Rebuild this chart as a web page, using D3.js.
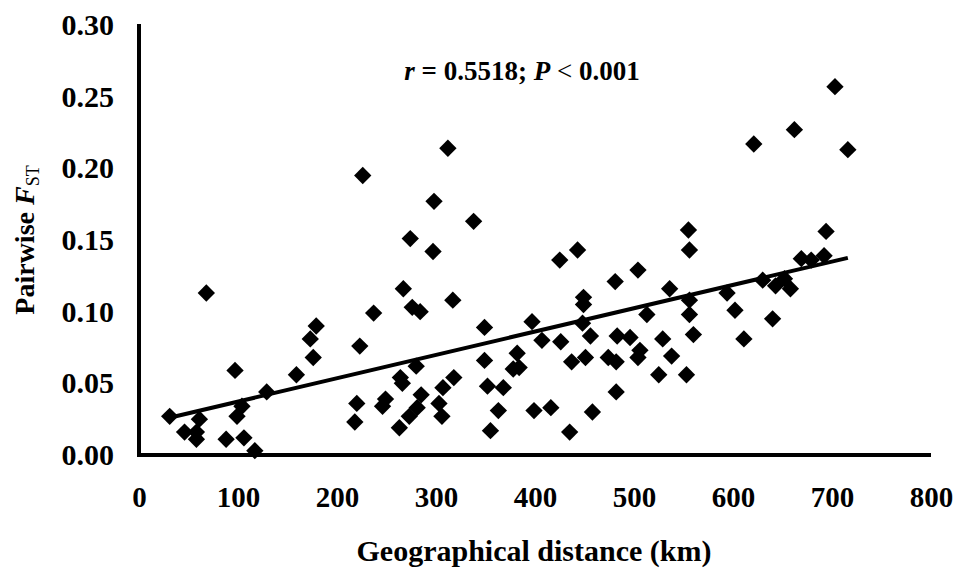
<!DOCTYPE html>
<html>
<head>
<meta charset="utf-8">
<script src="https://cdn.jsdelivr.net/npm/d3@7"></script>
<style>
  body { margin: 0; background: #fff; }
  text { font-family: "Times New Roman", "Liberation Serif", serif; fill: #000; }
</style>
</head>
<body>
<div id="chart"></div>
<script>
// geographical distance (km) and pairwise Fst
var distance = [31, 46, 58, 58, 61, 68, 88, 97, 99, 104, 106, 117, 129, 159, 173, 176, 179,
  218, 220, 223, 226, 237, 246, 249, 263, 264, 266, 267, 273, 274, 276, 280, 281, 284, 285,
  297, 298, 303, 306, 307, 312, 317, 318, 338, 349, 349, 352, 355, 363, 368, 378, 382, 384,
  397, 399, 407, 416, 425, 426, 435, 437, 443, 448, 449, 449, 451, 456, 458, 474, 481, 482,
  482, 483, 496, 504, 504, 506, 513, 525, 529, 536, 538, 553, 555, 556, 556, 556, 560, 594,
  602, 611, 621, 630, 640, 643, 652, 658, 662, 669, 679, 692, 694, 703, 716];
var fst = [0.027, 0.016, 0.016, 0.011, 0.025, 0.113, 0.011, 0.059, 0.027, 0.034, 0.012, 0.003, 0.044, 0.056, 0.081, 0.068, 0.090,
  0.023, 0.036, 0.076, 0.195, 0.099, 0.034, 0.039, 0.019, 0.054, 0.050, 0.116, 0.027, 0.151, 0.103, 0.062, 0.033, 0.100, 0.042,
  0.142, 0.177, 0.036, 0.027, 0.047, 0.214, 0.108, 0.054, 0.163, 0.089, 0.066, 0.048, 0.017, 0.031, 0.047, 0.060, 0.071, 0.061,
  0.093, 0.031, 0.080, 0.033, 0.136, 0.079, 0.016, 0.065, 0.143, 0.092, 0.105, 0.110, 0.068, 0.083, 0.030, 0.068, 0.121, 0.065,
  0.044, 0.083, 0.082, 0.129, 0.068, 0.073, 0.098, 0.056, 0.081, 0.116, 0.069, 0.056, 0.157, 0.143, 0.108, 0.098, 0.084, 0.113,
  0.101, 0.081, 0.217, 0.122, 0.095, 0.118, 0.123, 0.116, 0.227, 0.137, 0.136, 0.139, 0.156, 0.257, 0.213];

// linear trend line
var trendSlope = 0.0001628;
var trendIntercept = 0.021;
var trendRange = [34, 716];

var xTicks = [0, 100, 200, 300, 400, 500, 600, 700, 800];
var yTicks = [0, 0.05, 0.10, 0.15, 0.20, 0.25, 0.30];

const width = 956;
const height = 571;

const svg = d3.select("#chart")
              .append("svg")
              .attr("width", width)
              .attr("height", height);

const xScale = d3.scaleLinear().domain([0, 800]).range([139, 931]);
const yScale = d3.scaleLinear().domain([0, 0.30]).range([455, 25]);

// axes, no tick marks, thick black domain lines
const xAxis = d3.axisBottom(xScale)
                .tickValues(xTicks)
                .tickSize(0)
                .tickPadding(31)
                .tickFormat(d3.format("d"));
const yAxis = d3.axisLeft(yScale)
                .tickValues(yTicks)
                .tickSize(0)
                .tickPadding(25)
                .tickFormat(d3.format(".2f"));

const xAxisGroup = svg.append("g")
                      .attr("transform", "translate(0, 455)")
                      .call(xAxis);
const yAxisGroup = svg.append("g")
                      .attr("transform", "translate(139, 0)")
                      .call(yAxis);

[xAxisGroup, yAxisGroup].forEach(function(g) {
  g.select(".domain").attr("stroke", "#000").attr("stroke-width", 4);
  g.selectAll("text")
   .style("font-weight", "bold")
   .attr("fill", "#000");
});
xAxisGroup.selectAll("text").style("font-size", "29px");
yAxisGroup.selectAll("text").style("font-size", "30px");
xAxisGroup.select(".domain").attr("d", "M137,0H931");
yAxisGroup.select(".domain").attr("d", "M0,457V24");

// points
svg.append("g")
   .selectAll("path")
   .data(distance)
   .enter()
   .append("path")
   .attr("d", d3.symbol(d3.symbolSquare, 150))
   .attr("transform", (d, i) => "translate(" + xScale(d) + "," + yScale(fst[i]) + ") rotate(45)")
   .attr("fill", "#000");

// trend line
const line = d3.line()
               .x((d) => xScale(d))
               .y((d) => yScale(trendIntercept + trendSlope * d));
svg.append("path")
   .datum(trendRange)
   .attr("d", line)
   .attr("fill", "none")
   .attr("stroke", "#000")
   .attr("stroke-width", 4);

// annotation
const note = svg.append("text")
                .attr("x", 522)
                .attr("y", 80)
                .attr("text-anchor", "middle")
                .style("font-size", "27px")
                .style("font-weight", "bold");
note.append("tspan").style("font-style", "italic").text("r");
note.append("tspan").text(" = 0.5518; ");
note.append("tspan").style("font-style", "italic").text("P");
note.append("tspan").style("font-weight", "normal").text(" < ");
note.append("tspan").text("0.001");

// axis titles
svg.append("text")
   .attr("x", 534)
   .attr("y", 561)
   .attr("text-anchor", "middle")
   .style("font-size", "30px")
   .style("font-weight", "bold")
   .text("Geographical distance (km)");

const yTitle = svg.append("text")
                  .attr("transform", "translate(34, 240) rotate(-90)")
                  .attr("text-anchor", "middle")
                  .style("font-size", "28px")
                  .style("font-weight", "bold");
yTitle.append("tspan").text("Pairwise ");
yTitle.append("tspan").style("font-style", "italic").text("F");
yTitle.append("tspan").attr("dy", 5).style("font-size", "18px").style("font-weight", "normal").text("ST");
</script>
</body>
</html>
